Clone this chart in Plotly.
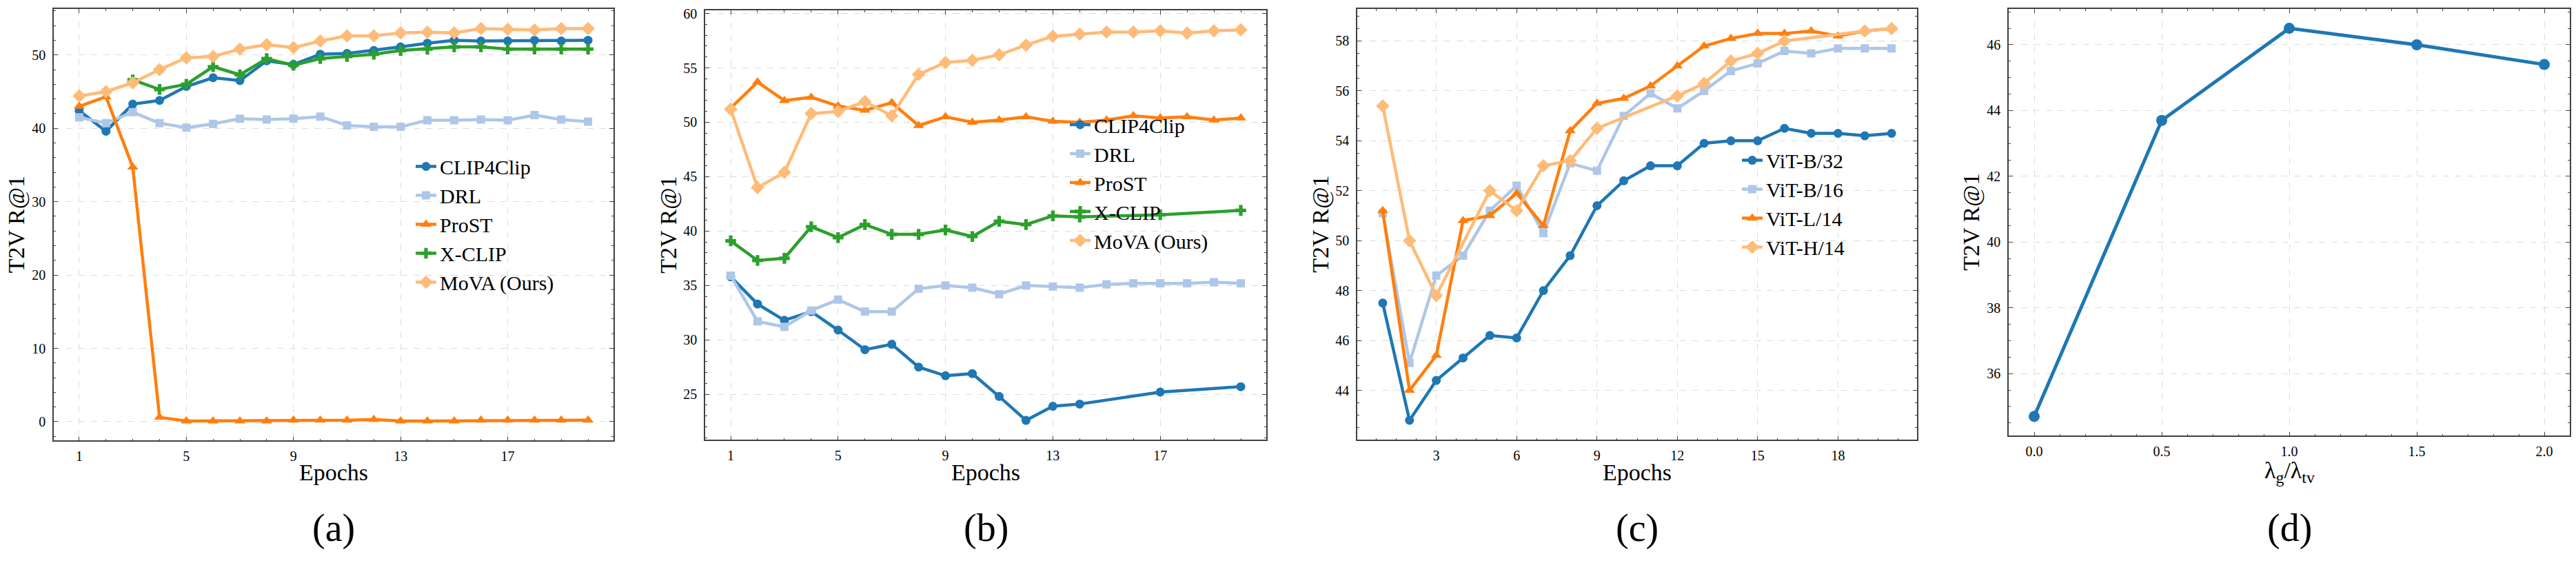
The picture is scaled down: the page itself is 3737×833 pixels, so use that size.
import plotly.graph_objects as go

W, H = 3737, 833

# ---------------- data ----------------
epochs = list(range(1, 21))

# Panel (a)
a_clip4clip = [42.4, 39.6, 43.3, 43.8, 45.7, 46.9, 46.5, 49.2, 48.7, 50.1,
               50.2, 50.6, 51.1, 51.6, 52.0, 51.9, 51.9, 52.0, 51.9, 52.0]
a_drl = [41.5, 40.7, 42.2, 40.7, 40.1, 40.6, 41.3, 41.2, 41.3, 41.6,
         40.4, 40.2, 40.2, 41.1, 41.1, 41.2, 41.1, 41.8, 41.2, 40.9]
a_prost = [43.0, 44.3, 34.7, 0.6, 0.1, 0.1, 0.1, 0.1, 0.2, 0.2,
           0.2, 0.3, 0.1, 0.1, 0.1, 0.2, 0.2, 0.2, 0.2, 0.2]
a_xclip_epochs = list(range(3, 21))
a_xclip = [46.6, 45.3, 46.0, 48.4, 47.3, 49.5, 48.6, 49.5, 49.8, 50.1,
           50.6, 50.8, 51.1, 51.1, 50.8, 50.8, 50.8, 50.8]
a_mova = [44.4, 45.0, 46.2, 48.0, 49.6, 49.8, 50.8, 51.4, 51.0, 51.9,
          52.6, 52.6, 53.0, 53.1, 53.0, 53.6, 53.5, 53.4, 53.6, 53.6]

# Panel (b)
b_sparse_epochs = [1, 2, 3, 4, 5, 6, 7, 8, 9, 10, 11, 12, 13, 14, 17, 20]
b_clip4clip = [35.8, 33.3, 31.8, 32.6, 30.9, 29.1, 29.6, 27.5, 26.7, 26.9,
               24.8, 22.6, 23.9, 24.1, 25.2, 25.7]
b_drl = [35.9, 31.7, 31.2, 32.7, 33.7, 32.6, 32.6, 34.7, 35.0, 34.8,
         34.2, 35.0, 34.9, 34.8, 35.1, 35.2, 35.2, 35.2, 35.3, 35.2]
b_prost = [51.3, 53.7, 52.0, 52.3, 51.5, 51.1, 51.8, 49.7, 50.5, 50.0,
           50.2, 50.5, 50.1, 50.0, 50.2, 50.6, 50.4, 50.5, 50.2, 50.4]
b_xclip = [39.1, 37.3, 37.5, 40.4, 39.4, 40.6, 39.7, 39.7, 40.1, 39.5,
           40.9, 40.6, 41.4, 41.3, 41.5, 41.9]
b_mova = [51.2, 44.0, 45.4, 50.8, 51.0, 51.9, 50.6, 54.4, 55.5, 55.7,
          56.2, 57.1, 57.9, 58.1, 58.3, 58.3, 58.4, 58.2, 58.4, 58.5]

# Panel (c)
c_vitb32 = [47.5, 42.8, 44.4, 45.3, 46.2, 46.1, 48.0, 49.4, 51.4, 52.4,
            53.0, 53.0, 53.9, 54.0, 54.0, 54.5, 54.3, 54.3, 54.2, 54.3]
c_vitb16 = [51.1, 45.1, 48.6, 49.4, 51.2, 52.2, 50.3, 53.1, 52.8, 55.0,
            55.9, 55.3, 56.0, 56.8, 57.1, 57.6, 57.5, 57.7, 57.7, 57.7]
c_vitl14 = [51.2, 44.0, 45.4, 50.8, 51.0, 51.9, 50.6, 54.4, 55.5, 55.7,
            56.2, 57.0, 57.8, 58.1, 58.3, 58.3, 58.4, 58.2, 58.4, 58.5]
c_vith14_epochs = [1, 2, 3, 5, 6, 7, 8, 9, 12, 13, 14, 15, 16, 19, 20]
c_vith14 = [55.4, 50.0, 47.8, 52.0, 51.2, 53.0, 53.2, 54.5, 55.8, 56.3,
            57.2, 57.5, 58.0, 58.4, 58.5]

# Panel (d)
d_ratio = [0.0, 0.5, 1.0, 1.5, 2.0]
d_r1 = [34.7, 43.7, 46.5, 46.0, 45.4]

a_names = ["CLIP4Clip", "DRL", "ProST", "X-CLIP", "MoVA (Ours)"]
c_names = ["ViT-B/32", "ViT-B/16", "ViT-L/14", "ViT-H/14"]
panel_labels = ["(a)", "(b)", "(c)", "(d)"]

# ---------------- style ----------------
BLUE, LBLUE, ORANGE, GREEN, LORANGE = "#1f77b4", "#aec7e8", "#ff7f0e", "#2ca02c", "#ffbb78"
FONT = "Liberation Serif, Times New Roman, serif"
AX = "#404040"
GRID = "#dcdcdc"

# pixel boxes of the four axes: (left, right, top, bottom)
boxes = [(78, 890, 7, 638), (1023, 1837, 9, 637), (1969, 2781, 7, 637), (2914, 3728, 7, 631)]

fig = go.Figure()

def add(x, y, name, color, symbol, size, k, legend, lw=4.5):
    xa = "x" if k == 1 else f"x{k}"
    ya = "y" if k == 1 else f"y{k}"
    fig.add_trace(go.Scatter(
        x=x, y=y, name=name, mode="lines+markers", xaxis=xa, yaxis=ya,
        line=dict(color=color, width=lw),
        marker=dict(color=color, symbol=symbol, size=size, line=dict(width=0)),
        legend=legend, showlegend=legend is not None, legendgroup=f"{k}-{name}"))

syms = ["circle", "square", "triangle-up", "cross", "diamond"]
sizes = [13, 12, 14, 13, 15]
cols = [BLUE, LBLUE, ORANGE, GREEN, LORANGE]

a_x = [epochs, epochs, epochs, a_xclip_epochs, epochs]
a_y = [a_clip4clip, a_drl, a_prost, a_xclip, a_mova]
for i in range(5):
    add(a_x[i], a_y[i], a_names[i], cols[i], syms[i], sizes[i], 1, "legend")

b_x = [b_sparse_epochs, epochs, epochs, b_sparse_epochs, epochs]
b_y = [b_clip4clip, b_drl, b_prost, b_xclip, b_mova]
for i in range(5):
    add(b_x[i], b_y[i], a_names[i], cols[i], syms[i], sizes[i], 2, "legend2")

c_x = [epochs, epochs, epochs, c_vith14_epochs]
c_y = [c_vitb32, c_vitb16, c_vitl14, c_vith14]
c_syms = ["circle", "square", "triangle-up", "diamond"]
c_cols = [BLUE, LBLUE, ORANGE, LORANGE]
c_sizes = [13, 12, 14, 15]
for i in range(4):
    add(c_x[i], c_y[i], c_names[i], c_cols[i], c_syms[i], c_sizes[i], 3, "legend3")

add(d_ratio, d_r1, "d", BLUE, "circle", 16, 4, None, lw=5)

def axis_common():
    return dict(showline=True, linecolor=AX, linewidth=1.5, mirror="allticks",
                ticks="inside", ticklen=6, tickwidth=1, tickcolor=AX,
                showgrid=True, gridcolor=GRID, griddash="dash", gridwidth=1,
                zeroline=False, tickfont=dict(family=FONT, size=20, color="black"),
                minor=dict(ticks="inside", ticklen=3, tickwidth=1, tickcolor=AX, showgrid=False))

xr = [0.05, 20.95]
specs = [
    dict(xr=xr, xt0=1, xdt=4, xm=1, yr=[-2.575, 56.275], yt0=0, ydt=10, ym=2, xfmt=None),
    dict(xr=xr, xt0=1, xdt=4, xm=1, yr=[20.805, 60.295], yt0=0, ydt=5, ym=1, xfmt=None),
    dict(xr=xr, xt0=0, xdt=3, xm=0.75, yr=[42.015, 59.285], yt0=0, ydt=2, ym=0.5, xfmt=None),
    dict(xr=[-0.1, 2.1], xt0=0, xdt=0.5, xm=0.1, yr=[34.11, 47.09], yt0=0, ydt=2, ym=0.5, xfmt=".1f"),
]

layout = dict(width=W, height=H, margin=dict(l=0, r=0, t=0, b=0),
              paper_bgcolor="white", plot_bgcolor="white",
              font=dict(family=FONT, color="black"))

for k, (box, s) in enumerate(zip(boxes, specs), start=1):
    l, r, t, b = box
    xs = "xaxis" if k == 1 else f"xaxis{k}"
    ys = "yaxis" if k == 1 else f"yaxis{k}"
    xa = axis_common()
    xa.update(domain=[l / W, r / W], range=s["xr"], tick0=s["xt0"], dtick=s["xdt"],
              anchor="y" if k == 1 else f"y{k}", ticklabelstandoff=4)
    xa["minor"].update(tick0=s["xt0"], dtick=s["xm"])
    if s["xfmt"]:
        xa["tickformat"] = s["xfmt"]
    ya = axis_common()
    ya.update(domain=[1 - b / H, 1 - t / H], range=s["yr"], tick0=s["yt0"], dtick=s["ydt"],
              anchor="x" if k == 1 else f"x{k}", ticklabelstandoff=6)
    ya["minor"].update(tick0=s["yt0"], dtick=s["ym"])
    layout[xs] = xa
    layout[ys] = ya

leg = dict(font=dict(family=FONT, size=30, color="black"), bgcolor="rgba(0,0,0,0)",
           borderwidth=0, xanchor="left", yanchor="top", tracegroupgap=0,
           xref="paper", yref="paper")
layout["legend"] = dict(leg, x=598 / W, y=1 - 211 / H)
layout["legend2"] = dict(leg, x=1547 / W, y=1 - 150 / H)
layout["legend3"] = dict(leg, x=2522 / W, y=1 - 202 / H)

ann = []
xtitle_y = 684
for k, (l, r, t, b) in enumerate(boxes, start=1):
    cx = (l + r) / 2
    txt = "Epochs" if k < 4 else "λ<sub>g</sub>/λ<sub>tv</sub>"
    ann.append(dict(text=txt, x=cx / W, y=1 - xtitle_y / H, xref="paper", yref="paper",
                    xanchor="center", yanchor="middle", showarrow=False,
                    font=dict(family=FONT, size=34, color="black")))
    ann.append(dict(text=panel_labels[k - 1], x=cx / W, y=1 - 766 / H, xref="paper", yref="paper",
                    xanchor="center", yanchor="middle", showarrow=False,
                    font=dict(family=FONT, size=56, color="black")))
ytitle_x = [24, 970, 1916, 2860]
for k, (l, r, t, b) in enumerate(boxes):
    ann.append(dict(text="T2V R@1", x=ytitle_x[k] / W, y=1 - (t + b) / 2 / H, xref="paper", yref="paper",
                    xanchor="center", yanchor="middle", textangle=-90, showarrow=False,
                    font=dict(family=FONT, size=34, color="black")))
layout["annotations"] = ann

fig.update_layout(**layout)
fig.write_html("out.html")
